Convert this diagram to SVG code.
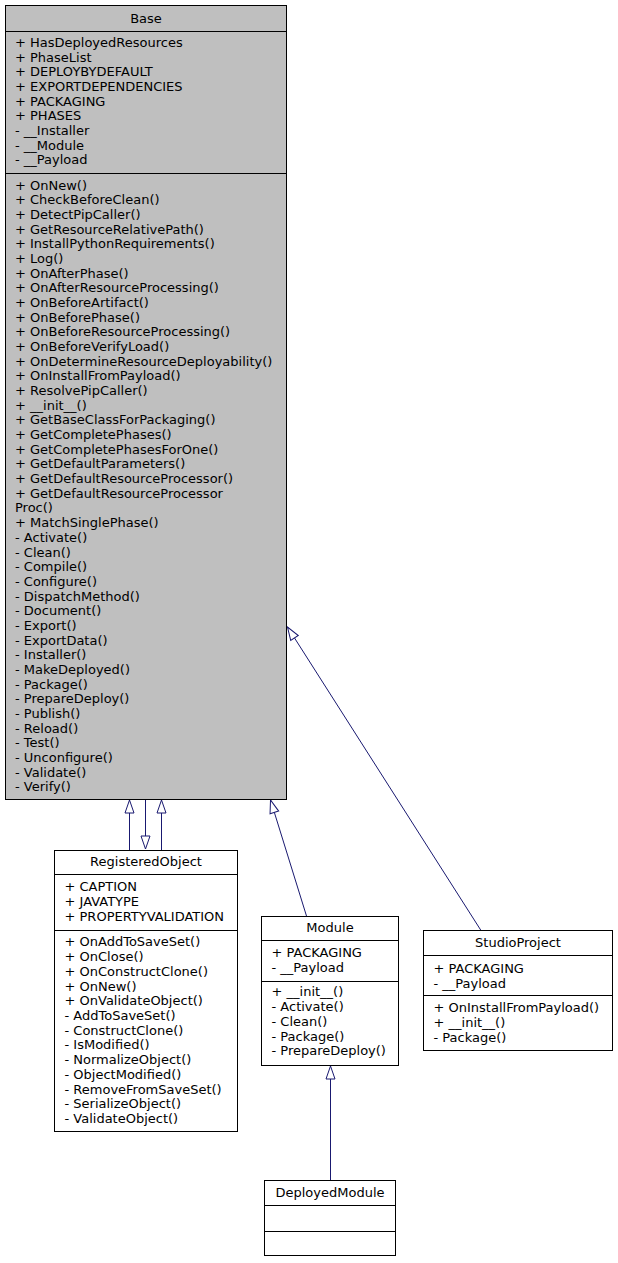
<svg xmlns="http://www.w3.org/2000/svg" width="618" height="1263" viewBox="0 0 618 1263">
<style>
text{font-family:"DejaVu Sans","Liberation Sans",sans-serif;font-size:13px;fill:#000}
.t{text-anchor:middle}
.box{fill:#fff;stroke:#000;stroke-width:1}
.cur{fill:#bfbfbf}
.div{stroke:#000;stroke-width:1}
.edge{stroke:#191970;stroke-width:1;fill:none;marker-end:url(#tri)}
</style>
<defs>
<marker id="tri" viewBox="-1 -1 15 11" refX="13" refY="4.5" markerWidth="15" markerHeight="11" markerUnits="userSpaceOnUse" orient="auto" overflow="visible">
<path d="M0,0 L13,4.5 L0,9 Z" fill="#fff" stroke="#191970" stroke-width="1"/>
</marker>
</defs>
<g id="connectors">
<line class="edge" x1="129.5" y1="850" x2="129.5" y2="800"/>
<line class="edge" x1="145.5" y1="800" x2="145.5" y2="849"/>
<line class="edge" x1="161.5" y1="850" x2="161.5" y2="800"/>
<line class="edge" x1="306.5" y1="916" x2="270.5" y2="800"/>
<line class="edge" x1="481" y1="930.5" x2="287.5" y2="627"/>
<line class="edge" x1="330.5" y1="1180.5" x2="330.5" y2="1066"/>
</g>
<g id="Base">
<rect class="box cur" x="5.5" y="5.5" width="281" height="794"/>
<line class="div" x1="5.5" y1="31.5" x2="286.5" y2="31.5"/>
<line class="div" x1="5.5" y1="173.5" x2="286.5" y2="173.5"/>
<text class="t" x="146" y="22.5">Base</text>
<text x="15" y="47">+ HasDeployedResources</text>
<text x="15" y="61.7">+ PhaseList</text>
<text x="15" y="76.3">+ DEPLOYBYDEFAULT</text>
<text x="15" y="91">+ EXPORTDEPENDENCIES</text>
<text x="15" y="105.7">+ PACKAGING</text>
<text x="15" y="120.3">+ PHASES</text>
<text x="15" y="135">- __Installer</text>
<text x="15" y="149.7">- __Module</text>
<text x="15" y="164.3">- __Payload</text>
<text x="15" y="189.7">+ OnNew()</text>
<text x="15" y="204.4">+ CheckBeforeClean()</text>
<text x="15" y="219">+ DetectPipCaller()</text>
<text x="15" y="233.7">+ GetResourceRelativePath()</text>
<text x="15" y="248.4">+ InstallPythonRequirements()</text>
<text x="15" y="263">+ Log()</text>
<text x="15" y="277.7">+ OnAfterPhase()</text>
<text x="15" y="292.4">+ OnAfterResourceProcessing()</text>
<text x="15" y="307.1">+ OnBeforeArtifact()</text>
<text x="15" y="321.7">+ OnBeforePhase()</text>
<text x="15" y="336.4">+ OnBeforeResourceProcessing()</text>
<text x="15" y="351.1">+ OnBeforeVerifyLoad()</text>
<text x="15" y="365.7">+ OnDetermineResourceDeployability()</text>
<text x="15" y="380.4">+ OnInstallFromPayload()</text>
<text x="15" y="395.1">+ ResolvePipCaller()</text>
<text x="15" y="409.8">+ __init__()</text>
<text x="15" y="424.4">+ GetBaseClassForPackaging()</text>
<text x="15" y="439.1">+ GetCompletePhases()</text>
<text x="15" y="453.8">+ GetCompletePhasesForOne()</text>
<text x="15" y="468.4">+ GetDefaultParameters()</text>
<text x="15" y="483.1">+ GetDefaultResourceProcessor()</text>
<text x="15" y="497.8">+ GetDefaultResourceProcessor</text>
<text x="15" y="512.4">Proc()</text>
<text x="15" y="527.1">+ MatchSinglePhase()</text>
<text x="15" y="541.8">- Activate()</text>
<text x="15" y="556.5">- Clean()</text>
<text x="15" y="571.1">- Compile()</text>
<text x="15" y="585.8">- Configure()</text>
<text x="15" y="600.5">- DispatchMethod()</text>
<text x="15" y="615.1">- Document()</text>
<text x="15" y="629.8">- Export()</text>
<text x="15" y="644.5">- ExportData()</text>
<text x="15" y="659.1">- Installer()</text>
<text x="15" y="673.8">- MakeDeployed()</text>
<text x="15" y="688.5">- Package()</text>
<text x="15" y="703.2">- PrepareDeploy()</text>
<text x="15" y="717.8">- Publish()</text>
<text x="15" y="732.5">- Reload()</text>
<text x="15" y="747.2">- Test()</text>
<text x="15" y="761.8">- Unconfigure()</text>
<text x="15" y="776.5">- Validate()</text>
<text x="15" y="791.2">- Verify()</text>
</g>
<g id="RegisteredObject">
<rect class="box" x="54.5" y="850.5" width="183" height="281"/>
<line class="div" x1="54.5" y1="874.5" x2="237.5" y2="874.5"/>
<line class="div" x1="54.5" y1="930.5" x2="237.5" y2="930.5"/>
<text class="t" x="146" y="866.4">RegisteredObject</text>
<text x="64.5" y="891.4">+ CAPTION</text>
<text x="64.5" y="906.1">+ JAVATYPE</text>
<text x="64.5" y="920.8">+ PROPERTYVALIDATION</text>
<text x="64.5" y="946.4">+ OnAddToSaveSet()</text>
<text x="64.5" y="961.1">+ OnClose()</text>
<text x="64.5" y="975.8">+ OnConstructClone()</text>
<text x="64.5" y="990.6">+ OnNew()</text>
<text x="64.5" y="1005.3">+ OnValidateObject()</text>
<text x="64.5" y="1020">- AddToSaveSet()</text>
<text x="64.5" y="1034.7">- ConstructClone()</text>
<text x="64.5" y="1049.4">- IsModified()</text>
<text x="64.5" y="1064.2">- NormalizeObject()</text>
<text x="64.5" y="1078.9">- ObjectModified()</text>
<text x="64.5" y="1093.6">- RemoveFromSaveSet()</text>
<text x="64.5" y="1108.3">- SerializeObject()</text>
<text x="64.5" y="1123">- ValidateObject()</text>
</g>
<g id="Module">
<rect class="box" x="261.5" y="916.5" width="137" height="149"/>
<line class="div" x1="261.5" y1="940.5" x2="398.5" y2="940.5"/>
<line class="div" x1="261.5" y1="981.5" x2="398.5" y2="981.5"/>
<text class="t" x="330" y="932">Module</text>
<text x="271.5" y="957">+ PACKAGING</text>
<text x="271.5" y="971.7">- __Payload</text>
<text x="271.5" y="996.4">+ __init__()</text>
<text x="271.5" y="1011.1">- Activate()</text>
<text x="271.5" y="1025.8">- Clean()</text>
<text x="271.5" y="1040.5">- Package()</text>
<text x="271.5" y="1055.2">- PrepareDeploy()</text>
</g>
<g id="StudioProject">
<rect class="box" x="423.5" y="930.5" width="189" height="120"/>
<line class="div" x1="423.5" y1="955.5" x2="612.5" y2="955.5"/>
<line class="div" x1="423.5" y1="995.5" x2="612.5" y2="995.5"/>
<text class="t" x="518" y="947.4">StudioProject</text>
<text x="433.5" y="973">+ PACKAGING</text>
<text x="433.5" y="987.6">- __Payload</text>
<text x="433.5" y="1012.4">+ OnInstallFromPayload()</text>
<text x="433.5" y="1027">+ __init__()</text>
<text x="433.5" y="1041.5">- Package()</text>
</g>
<g id="DeployedModule">
<rect class="box" x="264.5" y="1180.5" width="131" height="75"/>
<line class="div" x1="264.5" y1="1205.5" x2="395.5" y2="1205.5"/>
<line class="div" x1="264.5" y1="1231.5" x2="395.5" y2="1231.5"/>
<text class="t" x="330" y="1197.4">DeployedModule</text>
</g>
</svg>
